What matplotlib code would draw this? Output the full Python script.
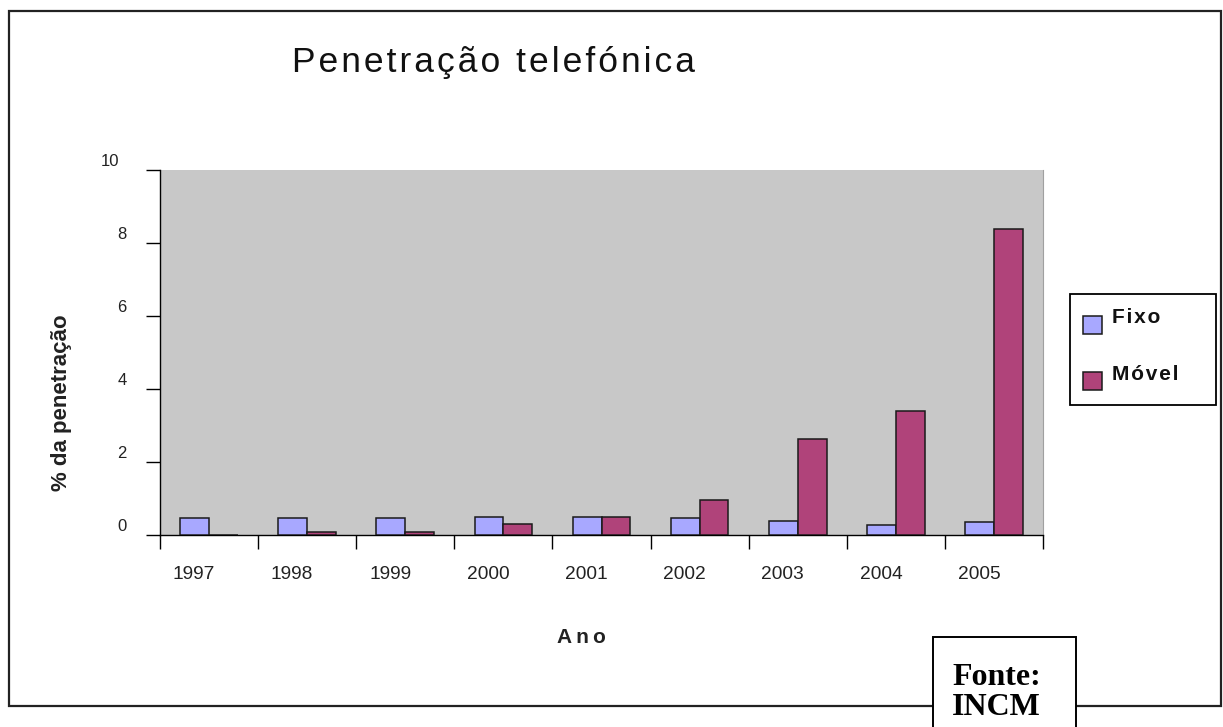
import matplotlib
matplotlib.use("Agg")
import matplotlib.pyplot as plt
import matplotlib.transforms as mtransforms
from matplotlib.patches import Rectangle
import numpy as np

years = ["1997", "1998", "1999", "2000", "2001", "2002", "2003", "2004", "2005"]
fixo = [0.47, 0.47, 0.47, 0.50, 0.50, 0.46, 0.38, 0.28, 0.36]
movel = [0.0, 0.07, 0.07, 0.29, 0.49, 0.96, 2.62, 3.39, 8.37]
yticks = [0, 2, 4, 6, 8, 10]
series_names = ["Fixo", "Móvel"]
series_colors = ["#A8A8FF", "#B0437A"]

plt.rcParams['font.family'] = ['Liberation Sans', 'DejaVu Sans']

HAIR = '\u200a'
THIN = '\u2009'

def spaced(s, sep):
    return sep.join(list(s))

W, H = 1223, 727
fig = plt.figure(figsize=(W / 100, H / 100), dpi=100)
fig.patch.set_facecolor('white')

def fx(px):
    return px / W

def fy(py):
    return 1 - py / H

ax = fig.add_axes([fx(160), fy(535), fx(1043) - fx(160), fy(170) - fy(535)])
ax.set_facecolor('#C8C8C8')

x = np.arange(len(years))
bw = 0.294
ax.bar(x - bw / 2, fixo, bw, color=series_colors[0], edgecolor='#1a1a1a', linewidth=1.1, zorder=3)
ax.bar(x + bw / 2, movel, bw, color=series_colors[1], edgecolor='#1a1a1a', linewidth=1.1, zorder=3)

ax.set_xlim(-0.5, len(years) - 0.5)
ax.set_ylim(0, 10)

ax.spines['top'].set_visible(False)
ax.spines['right'].set_color('#a0a0a0')
ax.spines['right'].set_linewidth(0.8)
ax.spines['left'].set_color('black')
ax.spines['bottom'].set_color('black')
ax.spines['left'].set_linewidth(1.0)
ax.spines['bottom'].set_linewidth(1.0)

# x: major ticks at category boundaries, labels at centers
ax.set_xticks(np.arange(-0.5, len(years), 1.0))
ax.set_xticklabels([])
ax.set_xticks(x, minor=True)
ax.set_xticklabels(years, minor=True, fontsize=13.8, color='#222222')
ax.tick_params(axis='x', which='major', length=10, width=1.0, direction='out')
ax.tick_params(axis='x', which='minor', length=0, pad=22)
offset = mtransforms.ScaledTranslation(-15 / 100, 0, fig.dpi_scale_trans)
for lab in ax.get_xticklabels(minor=True):
    lab.set_transform(lab.get_transform() + offset)

ax.set_yticks(yticks)
ax.set_yticklabels([str(v) for v in yticks], fontsize=12, color='#222222')
ax.tick_params(axis='y', length=10, width=1.0, direction='out', pad=14)
up = mtransforms.ScaledTranslation(0, 10 / 100, fig.dpi_scale_trans)
for lab in ax.get_yticklabels():
    lab.set_transform(lab.get_transform() + up)
ylabs = ax.get_yticklabels()
left = mtransforms.ScaledTranslation(-7 / 100, 0, fig.dpi_scale_trans)
ylabs[-1].set_transform(ylabs[-1].get_transform() + left)

# Axis titles
fig.text(fx(62), fy(403), '% da penetração', rotation=90, ha='center', va='center',
         fontsize=16, fontweight='bold', color='#222222')
fig.text(fx(581), fy(643), spaced('Ano', THIN), ha='center', va='baseline', fontsize=15,
         fontweight='bold', color='#222222')

# Title
fig.text(fx(493), fy(72), spaced('Penetração telefónica', HAIR), ha='center', va='baseline',
         fontsize=25.5, color='#111111')

# Legend (drawn as a framed key)
fig.add_artist(Rectangle((fx(1070), fy(405)), fx(1216) - fx(1070), fy(294) - fy(405),
                         transform=fig.transFigure, facecolor='white', edgecolor='black',
                         linewidth=1.3, zorder=4))
key_patch_bottoms = [334, 390]
key_text_baselines = [323, 380]
for name, col, pb, tb in zip(series_names, series_colors, key_patch_bottoms, key_text_baselines):
    fig.add_artist(Rectangle((fx(1083), fy(pb)), fx(1102) - fx(1083), fy(pb - 18) - fy(pb),
                             transform=fig.transFigure, facecolor=col, edgecolor='#1a1a1a',
                             linewidth=1.1, zorder=5))
    fig.text(fx(1112), fy(tb), spaced(name, HAIR), ha='left', va='baseline', fontsize=15,
             fontweight='bold', color='#111111', zorder=5)

# Outer border
fig.add_artist(Rectangle((fx(9), fy(706)), fx(1221) - fx(9), fy(11) - fy(706),
                         transform=fig.transFigure, fill=False, edgecolor='#222222',
                         linewidth=1.6, zorder=1))

# Source box
fig.add_artist(Rectangle((fx(933), fy(740)), fx(1076) - fx(933), fy(637) - fy(740),
                         transform=fig.transFigure, facecolor='white', edgecolor='black',
                         linewidth=1.4, zorder=5))
fig.text(fx(952), fy(685), 'Fonte:', ha='left', va='baseline', fontsize=23,
         fontweight='bold', family=['Liberation Serif', 'DejaVu Serif'], zorder=6)
fig.text(fx(952), fy(715), 'INCM', ha='left', va='baseline', fontsize=23,
         fontweight='bold', family=['Liberation Serif', 'DejaVu Serif'], zorder=6)

fig.savefig('out.png', dpi=100, facecolor='white')
